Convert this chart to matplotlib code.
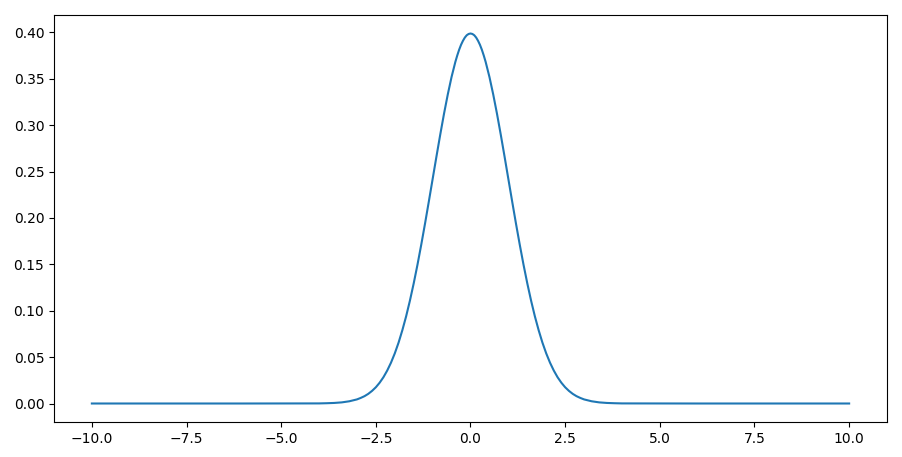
import matplotlib
matplotlib.use("Agg")
import matplotlib.pyplot as plt

# values (bell shape centred on 0)
x_vals = [-10.0, -8.0, -6.0, -4.0, -3.8, -3.6, -3.4, -3.2, -3.0, -2.9, -2.8, -2.7,
          -2.6, -2.5, -2.4, -2.3, -2.2, -2.1, -2.0, -1.9, -1.8, -1.7, -1.6, -1.5,
          -1.4, -1.3, -1.2, -1.1, -1.0, -0.9, -0.8, -0.7, -0.6, -0.5, -0.4, -0.35,
          -0.3, -0.25, -0.2, -0.15, -0.1, -0.05, 0.0,
          0.05, 0.1, 0.15, 0.2, 0.25, 0.3, 0.35, 0.4, 0.5, 0.6, 0.7, 0.8, 0.9,
          1.0, 1.1, 1.2, 1.3, 1.4, 1.5, 1.6, 1.7, 1.8, 1.9, 2.0, 2.1, 2.2, 2.3,
          2.4, 2.5, 2.6, 2.7, 2.8, 2.9, 3.0, 3.2, 3.4, 3.6, 3.8, 4.0, 6.0, 8.0, 10.0]
y_vals = [0.0, 0.0, 0.0, 0.0001, 0.0003, 0.0006, 0.0012, 0.0024, 0.0044, 0.0060,
          0.0079, 0.0104, 0.0136, 0.0175, 0.0224, 0.0283, 0.0355, 0.0440, 0.0540,
          0.0656, 0.0790, 0.0940, 0.1109, 0.1295, 0.1497, 0.1714, 0.1942, 0.2179,
          0.2420, 0.2661, 0.2897, 0.3123, 0.3332, 0.3521, 0.3683, 0.3752, 0.3814,
          0.3867, 0.3910, 0.3945, 0.3970, 0.3984, 0.3989,
          0.3984, 0.3970, 0.3945, 0.3910, 0.3867, 0.3814, 0.3752, 0.3683, 0.3521,
          0.3332, 0.3123, 0.2897, 0.2661, 0.2420, 0.2179, 0.1942, 0.1714, 0.1497,
          0.1295, 0.1109, 0.0940, 0.0790, 0.0656, 0.0540, 0.0440, 0.0355, 0.0283,
          0.0224, 0.0175, 0.0136, 0.0104, 0.0079, 0.0060, 0.0044, 0.0024, 0.0012,
          0.0006, 0.0003, 0.0001, 0.0, 0.0, 0.0]

fig = plt.figure(figsize=(9.03, 4.57), dpi=100)
ax = fig.add_axes([54 / 903, 1 - 422 / 457, (887 - 54) / 903, (422 - 15) / 457])
ax.plot(x_vals, y_vals, color="#1f77b4", linewidth=1.5)
ax.set_xticks([-10.0, -7.5, -5.0, -2.5, 0.0, 2.5, 5.0, 7.5, 10.0])
ax.set_yticks([0.0, 0.05, 0.10, 0.15, 0.20, 0.25, 0.30, 0.35, 0.40])

fig.savefig("out.png", dpi=100)
